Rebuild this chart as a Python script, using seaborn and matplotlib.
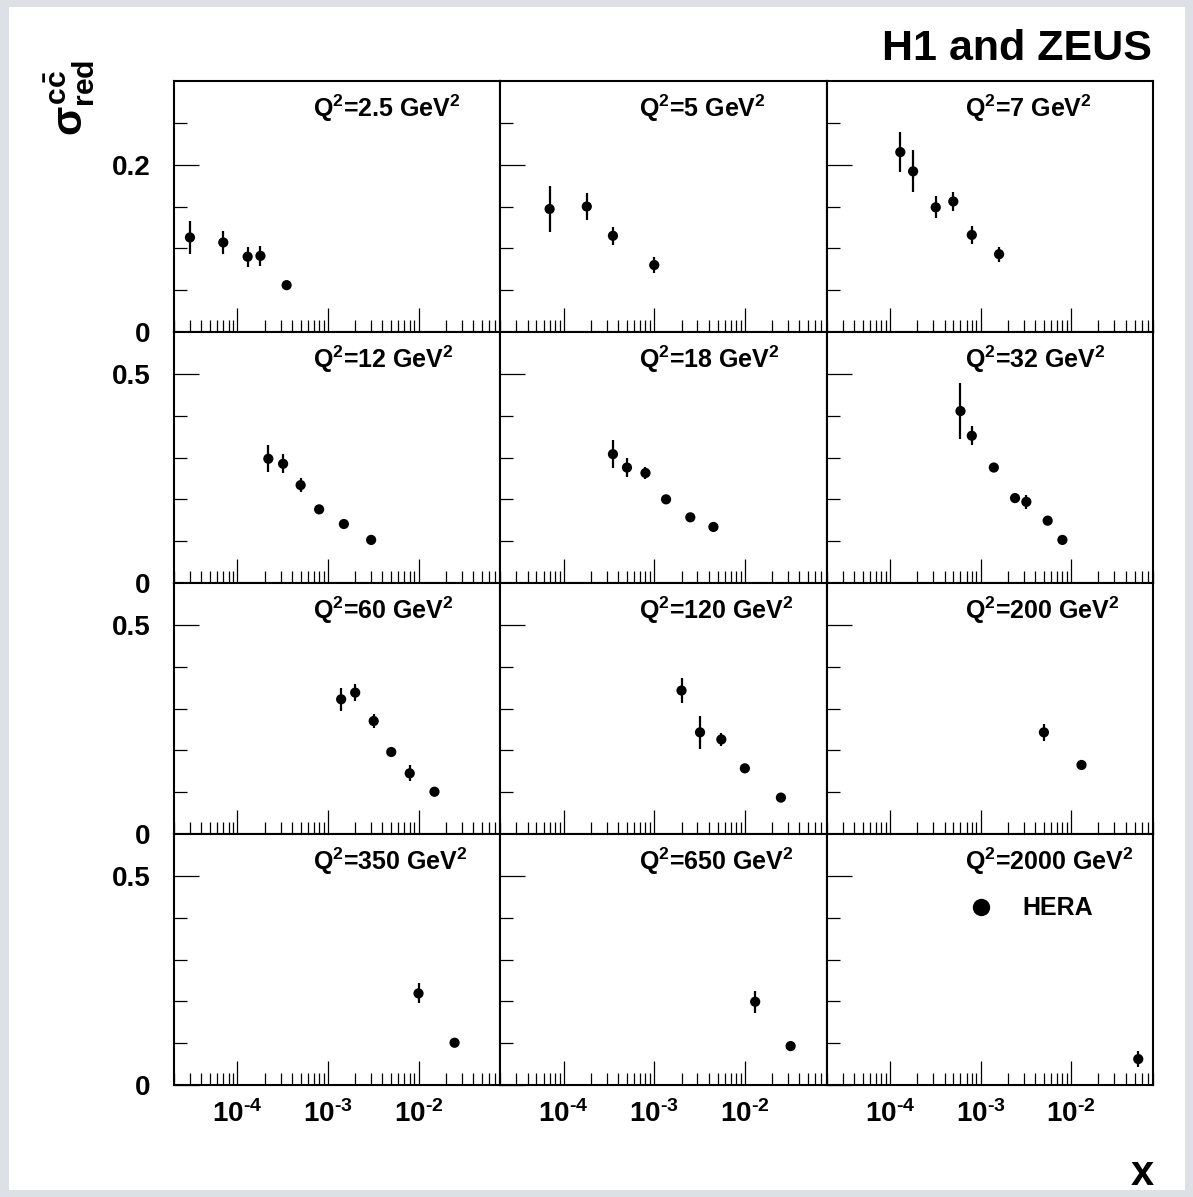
import numpy as np
import pandas as pd
import seaborn as sns
import matplotlib.pyplot as plt
from matplotlib.lines import Line2D
from matplotlib.patches import Rectangle
from matplotlib.ticker import LogLocator, FixedLocator, FuncFormatter, NullFormatter

# reduced charm cross section, one panel per Q^2 bin
q2_labels = ['2.5', '5', '7', '12', '18', '32', '60', '120', '200', '350', '650', '2000']

x_vals = [
    [3e-5, 7e-5, 1.3e-4, 1.8e-4, 3.5e-4],
    [7e-5, 1.8e-4, 3.5e-4, 1e-3],
    [1.3e-4, 1.8e-4, 3.2e-4, 5e-4, 8e-4, 1.6e-3],
    [2.2e-4, 3.2e-4, 5e-4, 8e-4, 1.5e-3, 3e-3],
    [3.5e-4, 5e-4, 8e-4, 1.35e-3, 2.5e-3, 4.5e-3],
    [6e-4, 8e-4, 1.4e-3, 2.4e-3, 3.2e-3, 5.5e-3, 8e-3],
    [1.4e-3, 2e-3, 3.2e-3, 5e-3, 8e-3, 1.5e-2],
    [2e-3, 3.2e-3, 5.5e-3, 1e-2, 2.5e-2],
    [5e-3, 1.3e-2],
    [1e-2, 2.5e-2],
    [1.3e-2, 3.2e-2],
    [5.5e-2],
]
sigma_vals = [
    [0.113, 0.107, 0.090, 0.091, 0.056],
    [0.147, 0.150, 0.115, 0.080],
    [0.215, 0.192, 0.149, 0.156, 0.116, 0.093],
    [0.297, 0.285, 0.234, 0.176, 0.141, 0.103],
    [0.308, 0.276, 0.263, 0.200, 0.157, 0.134],
    [0.411, 0.352, 0.276, 0.203, 0.194, 0.149, 0.103],
    [0.322, 0.338, 0.270, 0.196, 0.145, 0.101],
    [0.343, 0.243, 0.226, 0.157, 0.087],
    [0.243, 0.165],
    [0.219, 0.101],
    [0.199, 0.093],
    [0.062],
]
err_vals = [
    [0.020, 0.014, 0.012, 0.012, 0.004],
    [0.027, 0.016, 0.011, 0.010],
    [0.024, 0.025, 0.013, 0.011, 0.011, 0.009],
    [0.032, 0.023, 0.016, 0.006, 0.006, 0.005],
    [0.034, 0.023, 0.015, 0.007, 0.006, 0.005],
    [0.066, 0.023, 0.011, 0.007, 0.017, 0.006, 0.005],
    [0.027, 0.020, 0.016, 0.006, 0.019, 0.005],
    [0.030, 0.039, 0.016, 0.006, 0.005],
    [0.020, 0.006],
    [0.024, 0.006],
    [0.026, 0.008],
    [0.020],
]

rows = []
for lab, xs, ys, es in zip(q2_labels, x_vals, sigma_vals, err_vals):
    for xv, yv, ev in zip(xs, ys, es):
        rows.append({'Q2': lab, 'x': xv, 'sigma': yv, 'err': ev})
df = pd.DataFrame(rows)

sns.set_style('ticks')
plt.rcParams['font.family'] = ['Liberation Sans', 'DejaVu Sans']
plt.rcParams['font.weight'] = 'bold'
plt.rcParams['text.color'] = 'black'
plt.rcParams['mathtext.fontset'] = 'custom'
plt.rcParams['mathtext.rm'] = 'Liberation Sans:bold'
plt.rcParams['mathtext.it'] = 'Liberation Sans:bold'
plt.rcParams['mathtext.bf'] = 'Liberation Sans:bold'

W, H = 1193, 1197
fig, axes = plt.subplots(4, 3, figsize=(W / 100, H / 100), dpi=100,
                         sharex=True, sharey='row')
fig.patch.set_facecolor('#dde1e6')
fig.patches.append(Rectangle((9 / W, 7 / H), (1185 - 9) / W, (1190 - 7) / H,
                             transform=fig.transFigure, facecolor='white',
                             edgecolor='none', zorder=-10))
fig.subplots_adjust(left=174 / W, right=1153 / W, top=1 - 81 / H,
                    bottom=1 - 1085 / H, wspace=0, hspace=0)


def log_label(v, p):
    return r'$10^{\text{-}%d}$' % abs(int(round(np.log10(v))))


for i, ax in enumerate(axes.flat):
    lab = q2_labels[i]
    sub = df[df['Q2'] == lab]
    ax.errorbar(sub['x'], sub['sigma'], yerr=sub['err'], fmt='none',
                ecolor='black', elinewidth=1.6, capsize=0, zorder=2)
    sns.scatterplot(data=sub, x='x', y='sigma', color='black', s=54,
                    edgecolor='none', ax=ax, zorder=3)
    ax.set_xscale('log')
    ax.set_xlim(2e-5, 0.08)
    r = i // 3
    if r == 0:
        ax.set_ylim(0, 0.3)
        ax.yaxis.set_major_locator(FixedLocator([0, 0.2]))
        ax.yaxis.set_minor_locator(FixedLocator([0.05, 0.1, 0.15, 0.25]))
    else:
        ax.set_ylim(0, 0.6)
        ax.yaxis.set_major_locator(FixedLocator([0, 0.5]))
        ax.yaxis.set_minor_locator(FixedLocator([0.1, 0.2, 0.3, 0.4]))
    ax.yaxis.set_major_formatter(FuncFormatter(lambda v, p: f'{v:g}'))
    ax.xaxis.set_major_locator(LogLocator(base=10, numticks=12))
    ax.xaxis.set_minor_locator(LogLocator(base=10, subs=np.arange(2, 10), numticks=12))
    ax.xaxis.set_minor_formatter(NullFormatter())
    ax.xaxis.set_major_formatter(FuncFormatter(log_label))
    ax.tick_params(axis='both', which='both', direction='in', top=False,
                   right=False, width=0.9, colors='black', labelsize=20)
    ax.tick_params(axis='x', which='major', length=17, pad=11)
    ax.tick_params(axis='x', which='minor', length=8.5)
    ax.tick_params(axis='y', which='major', length=18, pad=17)
    ax.tick_params(axis='y', which='minor', length=9)
    for sp in ax.spines.values():
        sp.set_visible(True)
        sp.set_linewidth(1.5)
        sp.set_color('black')
    ax.set_xlabel('')
    ax.set_ylabel('')
    ax.text(0.425, 0.893, r'Q$^{2}$=' + lab + r' GeV$^{2}$', transform=ax.transAxes,
            ha='left', va='center', fontsize=18, fontweight='bold')

handle = Line2D([], [], linestyle='none', marker='o', markersize=12.5,
                color='black', markeredgewidth=0)
axes[3, 2].legend([handle], ['HERA'], loc='center left',
                  bbox_to_anchor=(0.436, 0.704), frameon=False, fontsize=18,
                  handlelength=1.0, handletextpad=1.15, borderpad=0,
                  borderaxespad=0)

fig.text(1152 / W, 1 - 60 / H, 'H1 and ZEUS', ha='right', va='baseline',
         fontsize=31, fontweight='bold')
fig.text(1154 / W, 1 - 1185 / H, 'x', ha='right', va='baseline',
         fontsize=30, fontweight='bold')
fig.text(70 / W, 1 - 60 / H, r'$\sigma^{\mathrm{c\bar{c}}}_{\mathrm{red}}$',
         rotation=90, ha='center', va='top', fontsize=31)

fig.savefig('out.png', dpi=100, facecolor=fig.get_facecolor())
